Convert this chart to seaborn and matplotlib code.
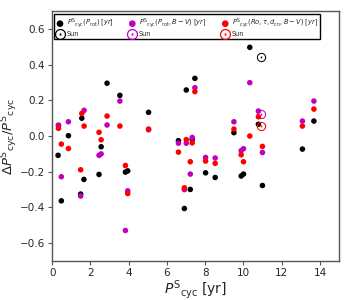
"""
Relative deviation of predicted cycle periods vs. observed P_cyc
"""

import matplotlib
matplotlib.use("Agg")
import matplotlib.pyplot as plt
import seaborn as sns
import pandas as pd

# --- data ---
# P_cyc(P_rot)
x_rot = [0.31, 0.33, 0.48, 0.85, 1.49, 1.55, 1.66, 2.45, 2.56, 2.87, 3.54, 3.83, 3.95,
         5.04, 6.6, 6.91, 7.01, 7.22, 7.32, 7.46, 8.02, 8.52, 9.5, 9.88, 10.0, 10.33,
         10.78, 10.99, 13.08, 13.68]
y_rot = [-0.108, 0.06, -0.363, 0.002, -0.325, 0.10, -0.243, -0.215, -0.06, 0.296, 0.228,
         -0.202, -0.195, 0.133, -0.026, -0.406, 0.258, -0.299, -0.019, 0.323, -0.206,
         -0.232, 0.019, -0.224, -0.213, 0.497, 0.066, -0.277, -0.073, 0.084]

# P_cyc(P_rot, B-V)
x_bv = [0.33, 0.48, 0.85, 1.49, 1.67, 2.45, 2.56, 2.87, 3.54, 3.83, 3.95, 5.04, 6.6,
        6.91, 7.01, 7.22, 7.32, 7.46, 8.02, 8.52, 9.5, 9.88, 10.0, 10.33, 10.78, 10.99,
        13.08, 13.68]
y_bv = [0.06, -0.228, 0.08, -0.336, 0.144, -0.108, -0.1, 0.062, 0.196, -0.529, -0.307,
        0.035, -0.04, -0.30, -0.04, -0.213, -0.008, 0.271, -0.12, -0.123, 0.08, -0.082,
        -0.071, 0.299, 0.14, -0.092, 0.084, 0.196]

# P_cyc(Ro, tau, d_cn, B-V)
x_ro = [0.33, 0.48, 0.85, 1.49, 1.55, 1.67, 2.45, 2.56, 2.87, 3.54, 3.83, 3.95, 5.04,
        6.6, 6.91, 7.01, 7.22, 7.32, 7.46, 8.02, 8.52, 9.5, 9.88, 10.0, 10.33, 10.78,
        10.99, 13.08, 13.68]
y_ro = [0.043, -0.045, -0.07, -0.189, 0.127, 0.056, 0.021, -0.021, 0.112, 0.056, -0.165,
        -0.322, 0.039, -0.09, -0.29, -0.02, -0.144, -0.038, 0.249, -0.14, -0.153, 0.039,
        -0.105, -0.144, 0.0, 0.108, -0.058, 0.056, 0.151]

# Sun
x_sun = 10.92
y_sun_rot = 0.445
y_sun_bv = 0.123
y_sun_ro = 0.056

sns.set_style("ticks")
plt.rcParams["font.family"] = ["DejaVu Sans"]

fig = plt.figure(figsize=(3.5, 3.0), dpi=100)
ax = fig.add_axes([0.149, 0.13, 0.82, 0.833])

colors = ["black", "#c000c0", "red"]
labels = [r"$P^{\rm S}{}_{\rm cyc}(P_{\rm rot})$ [$yr$]",
          r"$P^{\rm S}{}_{\rm cyc}(P_{\rm rot}, B-V)$ [$yr$]",
          r"$P^{\rm S}{}_{\rm cyc}(Ro, \tau, d_{\rm cn}, B-V)$ [$yr$]"]
series = [(x_rot, y_rot, y_sun_rot), (x_bv, y_bv, y_sun_bv), (x_ro, y_ro, y_sun_ro)]

for (xs, ys, ysun), c, lab in zip(series, colors, labels):
    df = pd.DataFrame({"x": xs, "y": ys})
    sns.scatterplot(data=df, x="x", y="y", ax=ax, color=c, s=16,
                    edgecolor="none", label=lab)
    sns.scatterplot(x=[x_sun], y=[ysun], ax=ax, color=c, marker=r"$\odot$",
                    s=45, linewidth=0, label="Sun")

ax.set_xlim(0, 15)
ax.set_ylim(-0.7, 0.7)
ax.set_xticks([0, 2, 4, 6, 8, 10, 12, 14])
ax.set_yticks([-0.6, -0.4, -0.2, 0.0, 0.2, 0.4, 0.6])
ax.tick_params(labelsize=7.5, length=3, width=0.8, color="#555555", pad=2)
for sp in ax.spines.values():
    sp.set_color("#555555")
    sp.set_linewidth(1.0)

ax.set_xlabel(r"$P^{\rm S}{}_{\rm cyc}$ [yr]", fontsize=10, labelpad=0)
ax.set_ylabel(r"$\Delta P^{\rm S}{}_{\rm cyc}/P^{\rm S}{}_{\rm cyc}$", fontsize=9.5, labelpad=0)

h, l = ax.get_legend_handles_labels()
ax.legend(h, l, ncol=3, loc="upper center", fontsize=4.8, frameon=True,
          fancybox=False, edgecolor="black", framealpha=1, markerscale=1.2,
          borderpad=0.3, handletextpad=0.4, columnspacing=2.2,
          labelspacing=0.15, handlelength=1.2, bbox_to_anchor=(0.47, 1.0))

fig.savefig("out.png", dpi=100)
